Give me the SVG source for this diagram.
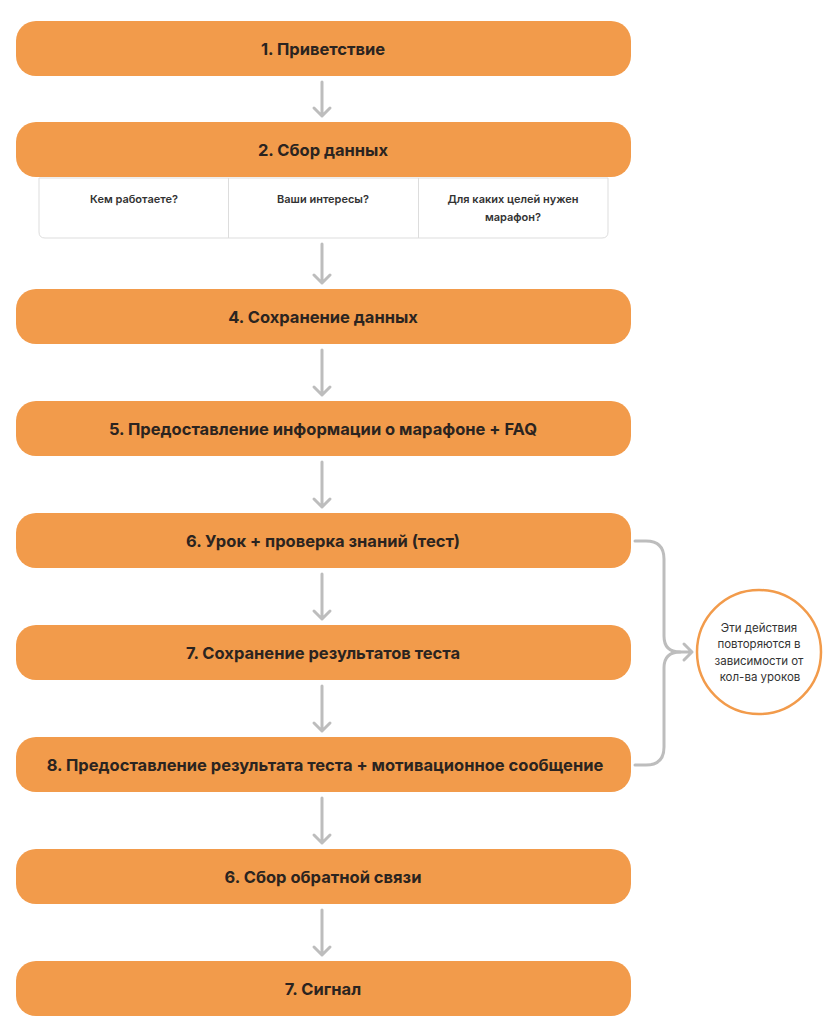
<svg xmlns="http://www.w3.org/2000/svg" width="832" height="1024" viewBox="0 0 832 1024">
<style>
.box{fill:#F29B4B}
.t{font-family:Inter,"Noto Sans",sans-serif;font-size:16.5px;font-weight:700;fill:#2B2420;text-anchor:middle}
.s{font-family:Inter,"Noto Sans",sans-serif;font-size:11px;font-weight:600;fill:#333;text-anchor:middle}
.c{font-family:Inter,"Noto Sans",sans-serif;font-size:11.5px;font-weight:400;fill:#333;text-anchor:middle}
.ln{fill:none;stroke:#BDBDBD;stroke-width:3;stroke-linecap:round;stroke-linejoin:round}
</style>
<rect width="832" height="1024" fill="#fff"/>
<g id="n1"><rect class="box" x="16" y="21" width="615" height="55" rx="20"/><text class="t" x="323" y="54.5">1. Приветствие</text></g>
<g id="n2"><rect class="box" x="16" y="122" width="615" height="55" rx="20"/><text class="t" x="323" y="155.5">2. Сбор данных</text></g>
<g id="n2table">
<path d="M39,178 H608 V232 Q608,238 602,238 H45 Q39,238 39,232 Z" fill="#fff" stroke="#DDDDDD" stroke-width="1"/>
<line x1="228.5" y1="178" x2="228.5" y2="238" stroke="#DDDDDD" stroke-width="1"/>
<line x1="418.5" y1="178" x2="418.5" y2="238" stroke="#DDDDDD" stroke-width="1"/>
<text class="s" x="134" y="203">Кем работаете?</text>
<text class="s" x="323" y="203">Ваши интересы?</text>
<text class="s" x="513" y="203">Для каких целей нужен</text>
<text class="s" x="513" y="221">марафон?</text>
</g>
<g id="n4"><rect class="box" x="16" y="289" width="615" height="55" rx="20"/><text class="t" x="323" y="322.5">4. Сохранение данных</text></g>
<g id="n5"><rect class="box" x="16" y="401" width="615" height="55" rx="20"/><text class="t" x="323" y="434.5">5. Предоставление информации о марафоне + FAQ</text></g>
<g id="n6"><rect class="box" x="16" y="513" width="615" height="55" rx="20"/><text class="t" x="323" y="546.5">6. Урок + проверка знаний (тест)</text></g>
<g id="n7"><rect class="box" x="16" y="625" width="615" height="55" rx="20"/><text class="t" x="323" y="658.5">7. Сохранение результатов теста</text></g>
<g id="n8"><rect class="box" x="16" y="737" width="615" height="55" rx="20"/><text class="t" x="325" y="770.5">8. Предоставление результата теста + мотивационное сообщение</text></g>
<g id="n9"><rect class="box" x="16" y="849" width="615" height="55" rx="20"/><text class="t" x="323" y="882.5">6. Сбор обратной связи</text></g>
<g id="n10"><rect class="box" x="16" y="961" width="615" height="55" rx="20"/><text class="t" x="323" y="994.5">7. Сигнал</text></g>
<g id="note"><circle cx="759" cy="652" r="62" fill="#fff" stroke="#F29B4B" stroke-width="2.5"/>
<text class="c" x="759" y="632">Эти действия</text>
<text class="c" x="759" y="648">повторяются в</text>
<text class="c" x="759" y="665">зависимости от</text>
<text class="c" x="760" y="681">кол-ва уроков</text>
</g>
<g id="connectors">
<path class="ln" d="M322,82 V116 M314,108 L322,116 L330,108"/>
<path class="ln" d="M322,244 V283 M314,275 L322,283 L330,275"/>
<path class="ln" d="M322,350 V395 M314,387 L322,395 L330,387"/>
<path class="ln" d="M322,462 V507 M314,499 L322,507 L330,499"/>
<path class="ln" d="M322,574 V619 M314,611 L322,619 L330,611"/>
<path class="ln" d="M322,686 V731 M314,723 L322,731 L330,723"/>
<path class="ln" d="M322,798 V843 M314,835 L322,843 L330,835"/>
<path class="ln" d="M322,910 V955 M314,947 L322,955 L330,947"/>
<path class="ln" d="M635,541 H646 Q664,541 664,559 V636 Q664,652 680,652 H692 M684,644 L692,652 L684,660"/>
<path class="ln" d="M635,765 H646 Q664,765 664,747 V668 Q664,652 680,652"/>
</g>
</svg>
